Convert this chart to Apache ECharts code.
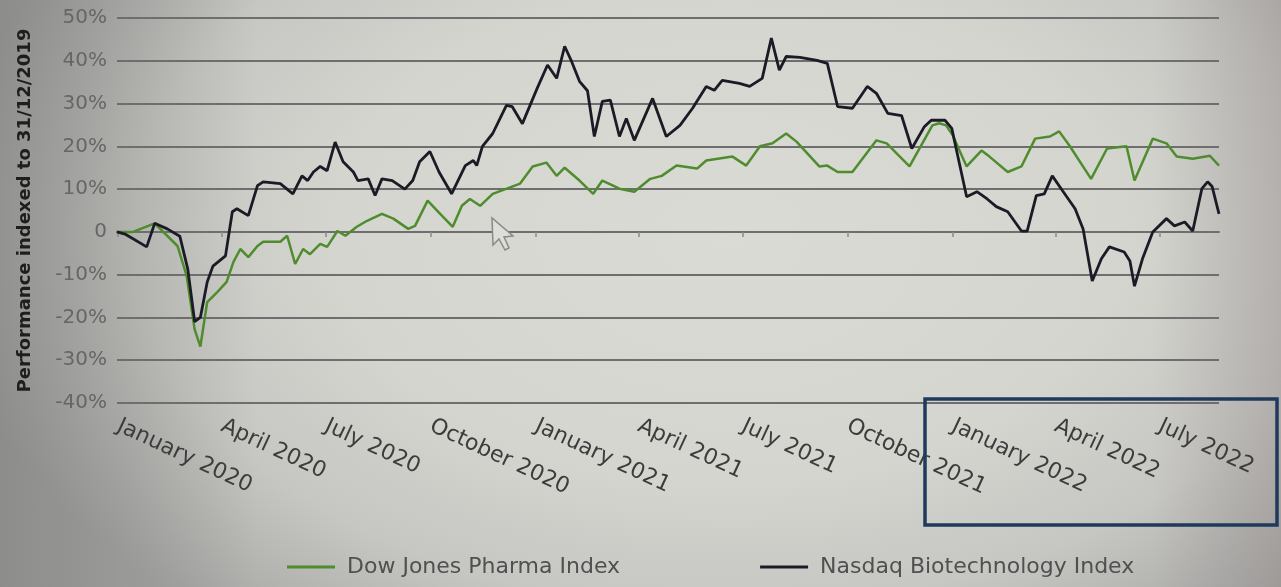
<!DOCTYPE html>
<html>
<head>
<meta charset="utf-8">
<script src="https://cdn.jsdelivr.net/npm/echarts@6/dist/echarts.min.js"></script>
<style>
  html, body { margin: 0; padding: 0; }
  body {
    width: 1281px; height: 587px; overflow: hidden;
    background:
      linear-gradient(to right, rgba(110,110,110,0.45) 0%, rgba(110,110,110,0) 20%),
      linear-gradient(to left, rgba(140,130,130,0.35) 0%, rgba(140,130,130,0) 10%),
      radial-gradient(ellipse 62% 85% at 57% 40%, #dadbd5 0%, #d4d5cf 50%, #c6c6c2 75%, #a6a6a4 100%);
  }
  #chart { width: 1281px; height: 587px; }
</style>
</head>
<body>
<div id="chart"></div>
<script>
// Performance of two indices, in % relative to 31/12/2019.
// x values are days since 31/12/2019.
const pharmaName = 'Dow Jones Pharma Index';
const pharmaDays = [0,14,33,53,61,68,73,79,88,96,102,108,115,123,128,143,149,156,163,169,178,184,193,200,210,219,232,242,255,261,272,283,294,302,309,318,329,353,364,376,385,392,405,417,425,440,453,467,477,490,508,516,539,551,563,574,586,595,615,622,631,644,665,674,694,714,720,726,732,744,757,764,780,792,804,817,825,834,853,867,884,891,907,919,928,942,957,965];
const pharmaPerf = [0,0,2,-3.3,-10.3,-22.8,-26.8,-16.4,-14,-11.7,-7,-4,-5.9,-3.3,-2.3,-2.3,-0.9,-7.5,-4,-5.2,-2.8,-3.5,0.2,-0.9,1.2,2.6,4.2,3.1,0.7,1.4,7.3,4.2,1.2,6.1,7.7,6.1,8.9,11.3,15.3,16.2,13.1,15,12,8.9,12,10.1,9.4,12.4,13.1,15.5,14.8,16.7,17.6,15.5,20,20.7,23,21.1,15.3,15.5,14,14,21.4,20.7,15.3,24.9,25.4,24.9,22.5,15.3,19,17.6,14,15.3,21.8,22.3,23.5,20.2,12.4,19.5,20,12,21.8,20.7,17.6,17.1,17.8,15.5];

const nbiName = 'Nasdaq Biotechnology Index';
const nbiDays = [0,7,26,33,44,55,62,68,73,79,84,95,101,105,115,123,128,143,154,162,167,172,178,184,191,198,207,211,220,226,232,241,252,259,265,274,282,293,305,312,315,320,329,341,346,355,368,377,385,392,398,405,412,418,425,432,440,446,453,469,481,493,504,516,523,530,545,554,565,573,580,586,598,613,622,631,644,657,665,675,687,696,707,713,725,731,744,753,762,770,780,792,797,805,812,819,828,839,846,854,862,869,882,887,891,898,907,919,926,935,942,950,955,959,965];
const nbiPerf = [0,-0.5,-3.5,2,0.7,-1,-8.7,-21,-20,-11.7,-8,-5.6,4.7,5.4,3.8,10.8,11.7,11.3,8.9,13.1,12,14,15.3,14.3,21,16.4,14,12,12.4,8.5,12.4,12,10,12,16.4,18.8,14,8.9,15.5,16.7,15.5,20,23,29.6,29.3,25.3,33.6,39,35.9,43.4,39.9,35.2,33,22.3,30.5,30.8,22.3,26.5,21.4,31.2,22.3,24.9,28.9,34,33.1,35.4,34.7,34,35.9,45.3,37.8,41,40.8,40.1,39.4,29.3,28.9,34,32.4,27.7,27.2,19.5,24.6,26.1,26.1,24.2,8.2,9.4,7.7,5.9,4.7,0.2,0.2,8.5,8.9,13.1,9.6,5.4,0.7,-11.5,-6.3,-3.5,-4.7,-6.8,-12.7,-6.3,0,3.1,1.4,2.3,0.2,10.1,11.7,10.6,4.2];

// Quarter starts (days since 31/12/2019) and their labels
const quarterDays = [1, 92, 183, 275, 367, 457, 548, 640, 732, 822, 913];
const quarterLabels = ['January 2020','April 2020','July 2020','October 2020','January 2021','April 2021','July 2021','October 2021','January 2022','April 2022','July 2022'];

const yTicks = { min: -40, max: 50, step: 10 };
const lastDay = 965;

const zip = (xs, ys) => xs.map((x, i) => [x, ys[i]]);

const chart = echarts.init(document.getElementById('chart'), null, { renderer: 'canvas' });
const font = 'DejaVu Sans';

chart.setOption({
  backgroundColor: 'transparent',
  animation: false,
  grid: { left: 117, right: 62, top: 18, bottom: 184, containLabel: false },
  legend: {
    left: 282, top: 551,
    itemWidth: 48, itemHeight: 3, itemGap: 140,
    icon: 'rect',
    textStyle: { fontFamily: font, fontSize: 22, color: '#505050', padding: [0, 0, 0, 7] },
    data: [pharmaName, nbiName]
  },
  xAxis: {
    type: 'value',
    min: 0, max: lastDay,
    axisLine: { show: true, lineStyle: { color: '#6e6e6e', width: 2 } },
    axisTick: { show: true, length: 5, lineStyle: { color: '#8a8a8a', width: 1.5 }, customValues: quarterDays },
    splitLine: { show: false },
    axisLabel: {
      customValues: quarterDays,
      rotate: -25,
      margin: 22,
      fontFamily: font, fontSize: 22, color: '#3c3c3c',
      formatter: v => { const i = quarterDays.indexOf(v); return i >= 0 ? quarterLabels[i] : ''; }
    }
  },
  yAxis: {
    type: 'value',
    min: yTicks.min, max: yTicks.max, interval: yTicks.step,
    name: 'Performance indexed to 31/12/2019',
    nameLocation: 'middle', nameGap: 83,
    nameTextStyle: { fontFamily: font, fontSize: 18, fontWeight: 'bold', color: '#1e1e1e' },
    axisLine: { show: false },
    axisTick: { show: false },
    splitLine: { show: true, lineStyle: { color: '#6e6e6e', width: 2 } },
    axisLabel: {
      margin: 10,
      fontFamily: font, fontSize: 20, color: '#666666',
      formatter: v => v === 0 ? '0' : v + '%'
    }
  },
  series: [
    {
      name: pharmaName, type: 'line', symbol: 'none',
      data: zip(pharmaDays, pharmaPerf),
      lineStyle: { color: '#4e8c2e', width: 2.5 },
      itemStyle: { color: '#4e8c2e' }, z: 2
    },
    {
      name: nbiName, type: 'line', symbol: 'none',
      data: zip(nbiDays, nbiPerf),
      lineStyle: { color: '#1b1b26', width: 2.8 },
      itemStyle: { color: '#1b1b26' }, z: 3
    }
  ],
  graphic: [
    // highlight frame around the 2022 quarters
    { type: 'rect', shape: { x: 925, y: 399, width: 352, height: 126 },
      style: { fill: 'none', stroke: '#1e3a5c', lineWidth: 3.5 }, z: 100 },
    // mouse pointer
    { type: 'polygon', shape: { points: [[492,218],[493,245],[499,239],[505,250],[509,248],[504,237],[513,236]] },
      style: { fill: '#dcded8', stroke: '#8a8a8a', lineWidth: 1.5 }, z: 100 }
  ]
});
</script>
</body>
</html>
